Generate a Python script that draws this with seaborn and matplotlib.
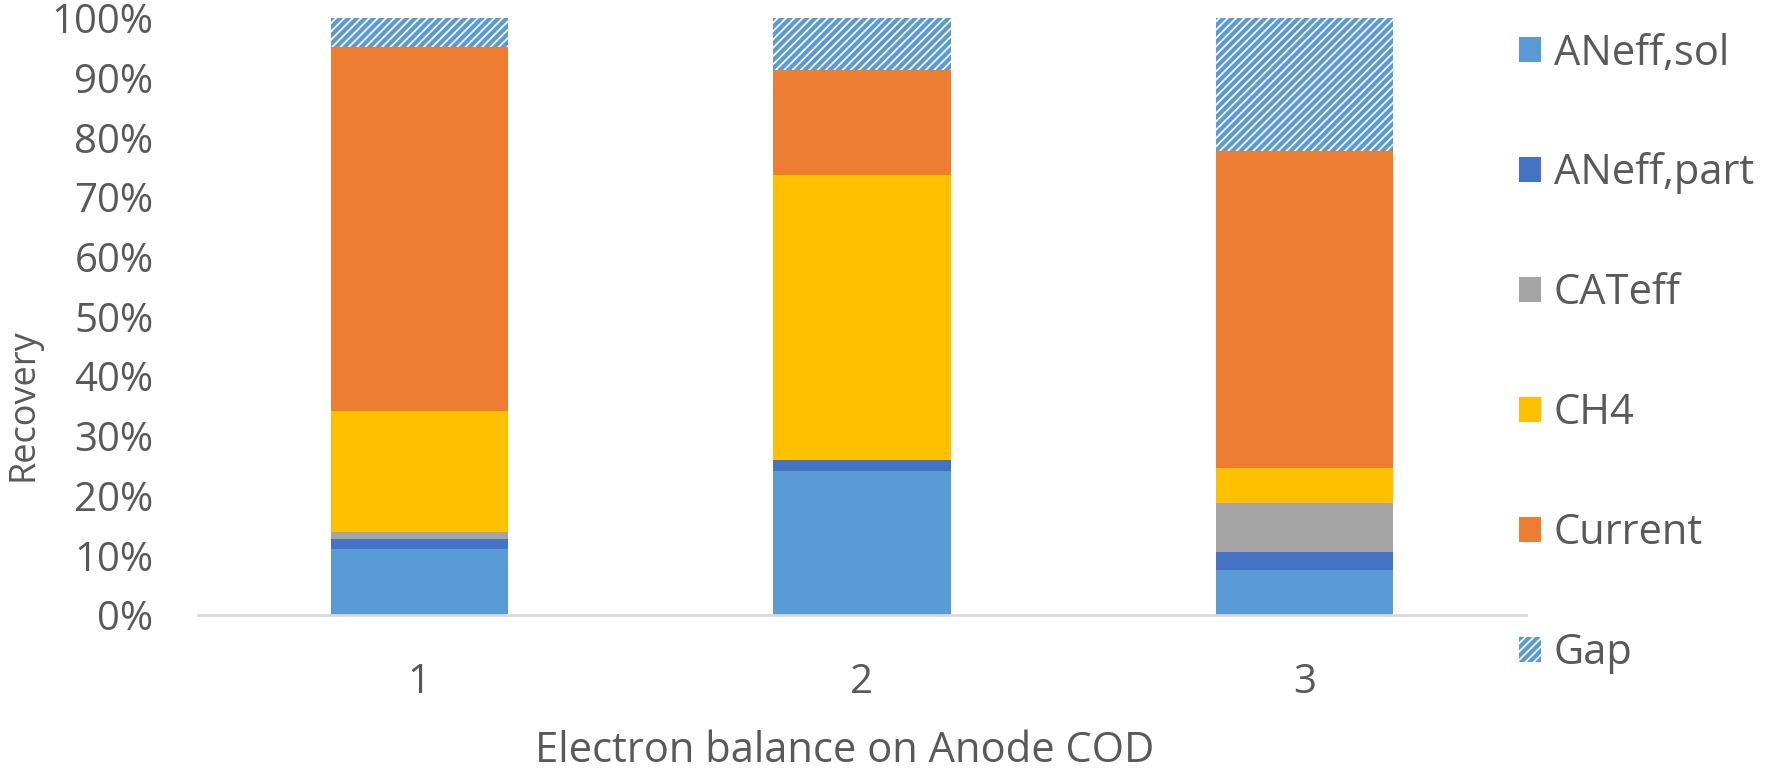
import numpy as np
import pandas as pd
import seaborn as sns
import matplotlib.pyplot as plt
from matplotlib.patches import Patch

sns.set_theme(style="white")
plt.rcParams['font.family'] = ['Open Sans', 'DejaVu Sans']
plt.rcParams['hatch.linewidth'] = 3.0

# data (percent of anode COD)
runs = ["1", "2", "3"]
aneff_sol = [11.0, 24.2, 7.5]
aneff_part = [1.7, 1.7, 3.1]
cateff = [1.2, 0.0, 8.1]
ch4 = [20.3, 47.8, 5.9]
current = [60.9, 17.6, 53.2]
gap = [4.9, 8.7, 22.2]

series_names = ["ANeff,sol", "ANeff,part", "CATeff", "CH4", "Current", "Gap"]
series_vals = [aneff_sol, aneff_part, cateff, ch4, current, gap]
colors = ["#5B9BD5", "#4472C4", "#A5A5A5", "#FFC000", "#ED7D31", "#5B9BD5"]
text_col = "#595959"

df = pd.DataFrame(dict(zip(series_names, series_vals)), index=runs)
cum = df.cumsum(axis=1)

fig = plt.figure(figsize=(17.9, 7.69), dpi=100)
ax = fig.add_axes([198 / 1790, 1 - 615 / 769, 1328 / 1790, 597 / 769])

# draw cumulative totals from the top down so each layer covers the one above
for name, col in reversed(list(zip(series_names, colors))):
    d = pd.DataFrame({"run": runs, "val": cum[name].values})
    if name == "Gap":
        sns.barplot(data=d, x="run", y="val", ax=ax, width=0.4,
                    facecolor="white", edgecolor=col, hatch="////",
                    linewidth=0)
    else:
        sns.barplot(data=d, x="run", y="val", ax=ax, width=0.4,
                    color=col, saturation=1, linewidth=0)

ax.set_ylim(0, 100)
ax.set_xlim(-0.5, 2.5)
ax.set_yticks(np.arange(0, 101, 10))
ax.set_yticklabels([f"{v}%" for v in range(0, 101, 10)])
ax.tick_params(axis="both", length=0, labelsize=29, colors=text_col)
ax.tick_params(axis="x", pad=34)
ax.tick_params(axis="y", pad=32)
for s in ["top", "right", "left"]:
    ax.spines[s].set_visible(False)
ax.spines["bottom"].set_color("#D9D9D9")
ax.spines["bottom"].set_linewidth(2)

ax.set_xlabel("Electron balance on Anode COD", fontsize=30, color=text_col)
ax.xaxis.set_label_coords(0.487, -0.193)
ax.set_ylabel("Recovery", fontsize=26, color=text_col)
ax.yaxis.set_label_coords(-0.118, 0.352)

handles = []
for name, col in zip(series_names, colors):
    if name == "Gap":
        handles.append(Patch(facecolor="white", edgecolor=col, hatch="////",
                             linewidth=0, label=name))
    else:
        handles.append(Patch(facecolor=col, edgecolor="none", label=name))
leg = fig.legend(handles=handles, loc="upper left",
                 bbox_to_anchor=(1481 / 1790, 1 + 5 / 769),
                 frameon=False, fontsize=30, labelspacing=1.87,
                 handlelength=0.55, handleheight=0.55, handletextpad=0.3)
for t in leg.get_texts():
    t.set_color(text_col)

fig.savefig("out.png", dpi=100)
